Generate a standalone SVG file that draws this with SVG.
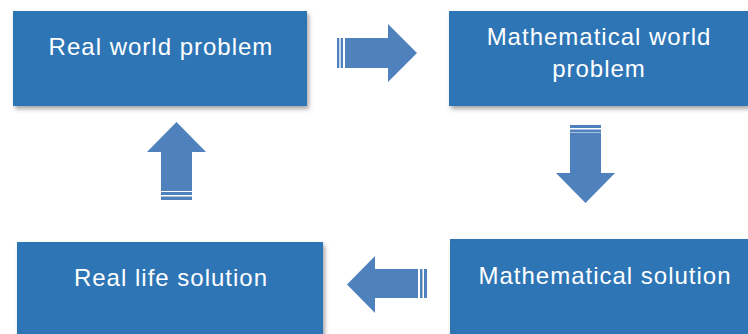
<svg xmlns="http://www.w3.org/2000/svg" width="748" height="334" viewBox="0 0 748 334">
<defs>
<filter id="sh" x="-10%" y="-10%" width="125%" height="135%">
<feDropShadow dx="2" dy="3" stdDeviation="2" flood-color="#000" flood-opacity="0.35"/>
</filter>
<style>
.box{fill:#2E75B6;filter:url(#sh)}
.lbl{fill:#fff;font-family:"Liberation Sans",Arial,sans-serif;font-size:24px;letter-spacing:1px;text-anchor:middle}
.arr{fill:#4F81BD}
</style>
</defs>
<rect width="748" height="334" fill="#fff"/>
<g id="n1"><rect class="box" x="13" y="11" width="294" height="95"/><text class="lbl" x="161" y="55">Real world problem</text></g>
<g id="n2"><rect class="box" x="449" y="11" width="299" height="95"/><text class="lbl" x="599" y="45">Mathematical world</text><text class="lbl" x="599" y="77">problem</text></g>
<g id="n3"><rect class="box" x="450" y="239" width="300" height="100"/><text class="lbl" x="605" y="284">Mathematical solution</text></g>
<g id="n4"><rect class="box" x="17" y="242" width="306" height="100"/><text class="lbl" x="171" y="286">Real life solution</text></g>
<g id="connectors">
<g class="arr">
<path d="M345 38H388V24L417 53L388 82V68H345Z"/>
<rect x="337" y="38" width="2.3" height="30"/><rect x="340.7" y="38" width="2.3" height="30"/>
<path d="M570 133H601V173H615L585.5 203L556 173H570Z"/>
<rect x="570" y="125" width="31" height="3"/><rect x="570" y="129.5" width="31" height="3"/>
<path d="M418 269V298H375V313L347 284.5L375 256V269Z"/>
<rect x="420" y="269" width="2.5" height="29"/><rect x="424" y="269" width="3" height="29"/>
<path d="M161 191V152H147L176.5 122L206 152H192V191Z"/>
<rect x="161" y="192" width="31" height="3"/><rect x="161" y="196.5" width="31" height="3.5"/>
</g>
</g>
</svg>
